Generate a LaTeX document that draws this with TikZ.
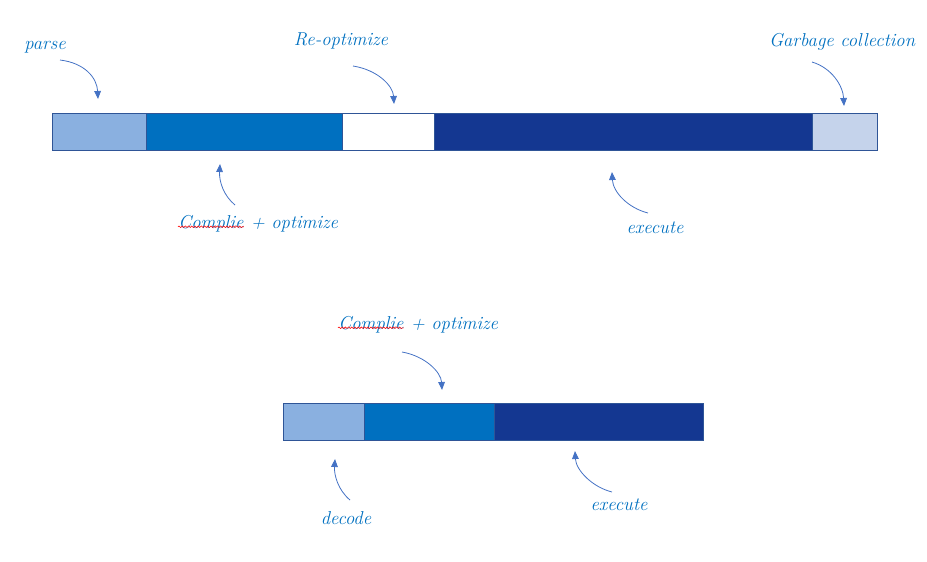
\documentclass[tikz,border=0pt]{standalone}
\usepackage{xcolor}
\usepackage{tikz}
\usetikzlibrary{positioning,arrows.meta,decorations.pathmorphing}

\definecolor{lightseg}{HTML}{8AB0E0}
\definecolor{midseg}{HTML}{0070C0}
\definecolor{darkseg}{HTML}{143791}
\definecolor{paleseg}{HTML}{C5D3EB}
\definecolor{edge}{HTML}{2F5597}
\definecolor{txtblue}{HTML}{0070C0}
\definecolor{arrblue}{HTML}{4472C4}

\tikzset{
  lbl/.style={text=txtblue, font=\fontsize{14}{16}\selectfont\itshape, inner sep=0pt},
  pointer/.style={draw=arrblue, line width=0.6pt, -{Triangle[length=6pt,width=5pt]}},
  seg/.style={draw=edge, line width=0.75pt},
  spell/.style={draw=red, line width=0.4pt, decorate, decoration={snake, amplitude=0.6pt, segment length=2.4pt}}
}

\begin{document}
\begin{tikzpicture}[x=0.75pt,y=0.75pt,yscale=-1,xscale=1]
\useasboundingbox (0,0) rectangle (927,561);

% top bar
\draw [seg, fill=lightseg] (52,113) rectangle (146,150) ;
\draw [seg, fill=midseg] (146,113) rectangle (342,150) ;
\draw [seg, fill=white] (342,113) rectangle (434,150) ;
\draw [seg, fill=darkseg] (434,113) rectangle (812,150) ;
\draw [seg, fill=paleseg] (812,113) rectangle (877,150) ;

% bottom bar
\draw [seg, fill=lightseg] (283,403) rectangle (364,440) ;
\draw [seg, fill=midseg] (364,403) rectangle (494,440) ;
\draw [seg, fill=darkseg] (494,403) rectangle (703,440) ;

% labels
\node [lbl] (parse) at (45,47) {parse};
\node [lbl] (reopt) at (341,41) {Re-optimize};
\node [lbl] (gc) at (842,42) {Garbage collection};
\node [lbl, anchor=west] (ctopA) at (178,224) {Complie};
\node [lbl, right=5pt of ctopA.base east, anchor=base west] (ctopB) {+ optimize};
\node [lbl] (exectop) at (655,228) {execute};
\node [lbl, anchor=west] (cbotA) at (338,325) {Complie};
\node [lbl, right=5pt of cbotA.base east, anchor=base west] (cbotB) {+ optimize};
\node [lbl] (decode) at (346,518) {decode};
\node [lbl] (execbot) at (619,505) {execute};

\draw [spell] ([yshift=-1.5pt]ctopA.base west) -- ([yshift=-1.5pt]ctopA.base east) ;
\draw [spell] ([yshift=-1.5pt]cbotA.base west) -- ([yshift=-1.5pt]cbotA.base east) ;

% arrow ends
\coordinate (pA) at (60,60);   \coordinate (pB) at (98,99);
\coordinate (rA) at (353,66);  \coordinate (rB) at (394,104);
\coordinate (gA) at (812,62);  \coordinate (gB) at (844,106);
\coordinate (cA) at (235,205); \coordinate (cB) at (220,164);
\coordinate (eA) at (648,213); \coordinate (eB) at (612,172);
\coordinate (kA) at (402,352); \coordinate (kB) at (442,390);
\coordinate (dA) at (350,500); \coordinate (dB) at (335,459);
\coordinate (xA) at (612,492); \coordinate (xB) at (575,451);

\draw [pointer] (pA) .. controls (85,63) and (97,78) .. (pB) ;
\draw [pointer] (rA) .. controls (378,70) and (393,86) .. (rB) ;
\draw [pointer] (gA) .. controls (832,68) and (843,86) .. (gB) ;
\draw [pointer] (cA) .. controls (224,196) and (219,182) .. (cB) ;
\draw [pointer] (eA) .. controls (628,208) and (613,192) .. (eB) ;
\draw [pointer] (kA) .. controls (425,356) and (441,372) .. (kB) ;
\draw [pointer] (dA) .. controls (338,490) and (334,475) .. (dB) ;
\draw [pointer] (xA) .. controls (592,487) and (576,470) .. (xB) ;
\end{tikzpicture}
\end{document}
